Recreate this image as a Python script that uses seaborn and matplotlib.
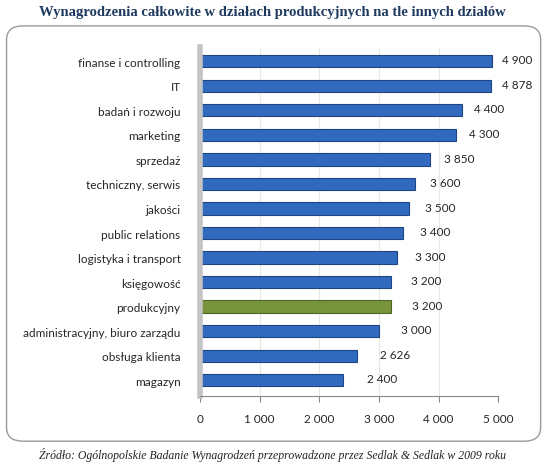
import numpy as np
import pandas as pd
import seaborn as sns
import matplotlib.pyplot as plt
from matplotlib.patches import FancyBboxPatch

# data
departments = ['finanse i controlling', 'IT', 'badań i rozwoju', 'marketing', 'sprzedaż',
               'techniczny, serwis', 'jakości', 'public relations', 'logistyka i transport',
               'księgowość', 'produkcyjny', 'administracyjny, biuro zarządu',
               'obsługa klienta', 'magazyn']
salaries = [4900, 4878, 4400, 4300, 3850, 3600, 3500, 3400, 3300, 3200, 3200, 3000, 2626, 2400]
highlight = 'produkcyjny'
x_ticks = [0, 1000, 2000, 3000, 4000, 5000]

title = 'Wynagrodzenia całkowite w działach produkcyjnych na tle innych działów'
source = 'Źródło: Ogólnopolskie Badanie Wynagrodzeń przeprowadzone przez Sedlak & Sedlak w 2009 roku'


def fmt(v):
    return f'{v:,}'.replace(',', ' ')


df = pd.DataFrame({'dept': departments, 'salary': salaries})
blue, green = '#3069BE', '#77933C'
palette = {d: (green if d == highlight else blue) for d in departments}

sns.set_style('white')
plt.rcParams['font.family'] = ['Lato', 'DejaVu Sans']

fig = plt.figure(figsize=(5.45, 4.64), dpi=100)

# rounded frame around the chart
frame = FancyBboxPatch((0.012, 0.047), 0.98, 0.895, boxstyle='round,pad=0,rounding_size=0.03',
                       transform=fig.transFigure, facecolor='white', edgecolor='#9a9a9a',
                       lw=1.0, zorder=-5)
fig.patches.append(frame)

ax = fig.add_axes([0.367, 0.144, 0.547, 0.752])
ax.set_zorder(2)
ax.set_facecolor('none')

sns.barplot(data=df, x='salary', y='dept', hue='dept', palette=palette, legend=False,
            saturation=1, width=0.5, edgecolor='#1f4684', linewidth=0.8, ax=ax)
# darker edge for the highlighted bar
for bar, d in zip(ax.patches, departments):
    if d == highlight:
        bar.set_edgecolor('#4f6626')

ax.set_xlim(0, 5000)
ax.set_ylim(13.65, -0.57)
ax.set_xticks(x_ticks)
ax.set_xticklabels([fmt(t) for t in x_ticks], fontsize=8.5)
ax.set_xlabel('')
ax.set_ylabel('')
ax.tick_params(axis='y', length=0, labelsize=8.5, pad=14)
ax.set_yticks(np.arange(len(departments) + 1) - 0.5, minor=True)
ax.tick_params(axis='y', which='minor', length=4, color='#888888', width=0.8)
ax.tick_params(axis='x', length=4, color='#888888', width=0.8, bottom=True, pad=8)

ax.grid(axis='x', color='#e8e8dc', lw=0.8)
ax.set_axisbelow(True)
for s in ['top', 'right']:
    ax.spines[s].set_visible(False)
ax.spines['left'].set_color('#c4c4c4')
ax.spines['left'].set_linewidth(4)
ax.spines['bottom'].set_color('#888888')
ax.spines['bottom'].set_linewidth(0.8)

for i, v in enumerate(salaries):
    ax.annotate(fmt(v), (v, i), xytext=(7 + i * 0.8, 1), textcoords='offset points',
                va='center', ha='left', fontsize=8.5)

fig.text(0.5, 0.972, title, ha='center', va='center', family='Liberation Serif',
         fontweight='bold', fontsize=10.5, color='#1f3a5f')
fig.text(0.5, 0.02, source, ha='center', va='center', family='Liberation Serif',
         style='italic', fontsize=8.5, color='#222222')

fig.savefig('out.png', dpi=100)
